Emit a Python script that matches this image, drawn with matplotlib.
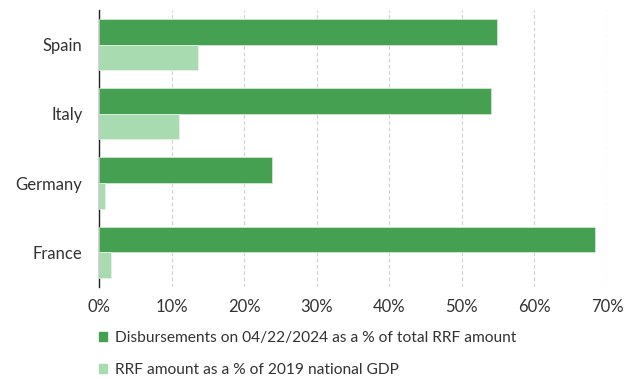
import numpy as np
import matplotlib
matplotlib.use("Agg")
import matplotlib.pyplot as plt
from matplotlib.patches import Patch

# ── data ──────────────────────────────────────────────
countries = ["Spain", "Italy", "Germany", "France"]
disbursed = [54.8, 54.0, 23.8, 68.3]   # % of total RRF amount
rrf_gdp = [13.6, 11.0, 0.8, 1.7]       # % of 2019 GDP
x_ticks = [0, 10, 20, 30, 40, 50, 60, 70]
labels = ["Disbursements on 04/22/2024 as a % of total RRF amount",
          "RRF amount as a % of 2019 national GDP"]

DARK = "#46a051"
LIGHT = "#a9dbb0"
TXT = "#333333"

plt.rcParams['font.family'] = ['Lato', 'DejaVu Sans']

fig = plt.figure(figsize=(6.35, 3.8), dpi=100)
ax = fig.add_axes([0.156, 0.245, 0.8, 0.729])

y = np.arange(len(countries))
h = 0.37
ax.barh(y - h / 2, disbursed, height=h, color=DARK, edgecolor="#d8eedb", lw=0.5, zorder=3)
ax.barh(y + h / 2, rrf_gdp, height=h, color=LIGHT, edgecolor="#e6f4e8", lw=0.5, zorder=3)

ax.set_ylim(len(countries) - 0.5, -0.5)
ax.set_yticks(y)
ax.set_yticklabels(countries, fontsize=12, color=TXT)
ax.set_xlim(0, 70)
ax.set_xticks(x_ticks)
ax.set_xticklabels([f"{v}%" for v in x_ticks], fontsize=12, color=TXT)
ax.tick_params(axis='y', length=0, pad=12)
ax.tick_params(axis='x', length=0, pad=9)

ax.grid(axis='x', color="#d4d4d4", ls=(0, (3, 2)), lw=0.9, zorder=0)
for s in ["top", "right", "bottom"]:
    ax.spines[s].set_visible(False)
ax.spines["left"].set_color("#222222")
ax.spines["left"].set_linewidth(1.0)

handles = [Patch(color=DARK), Patch(color=LIGHT)]
fig.legend(handles, labels, loc="upper left", bbox_to_anchor=(0.156, 0.128),
           frameon=False, fontsize=11.2, labelcolor=TXT, handlelength=0.5,
           handleheight=0.5, handletextpad=0.5, labelspacing=1.15,
           borderaxespad=0, borderpad=0)

fig.savefig("out.png", dpi=100, facecolor="white")
